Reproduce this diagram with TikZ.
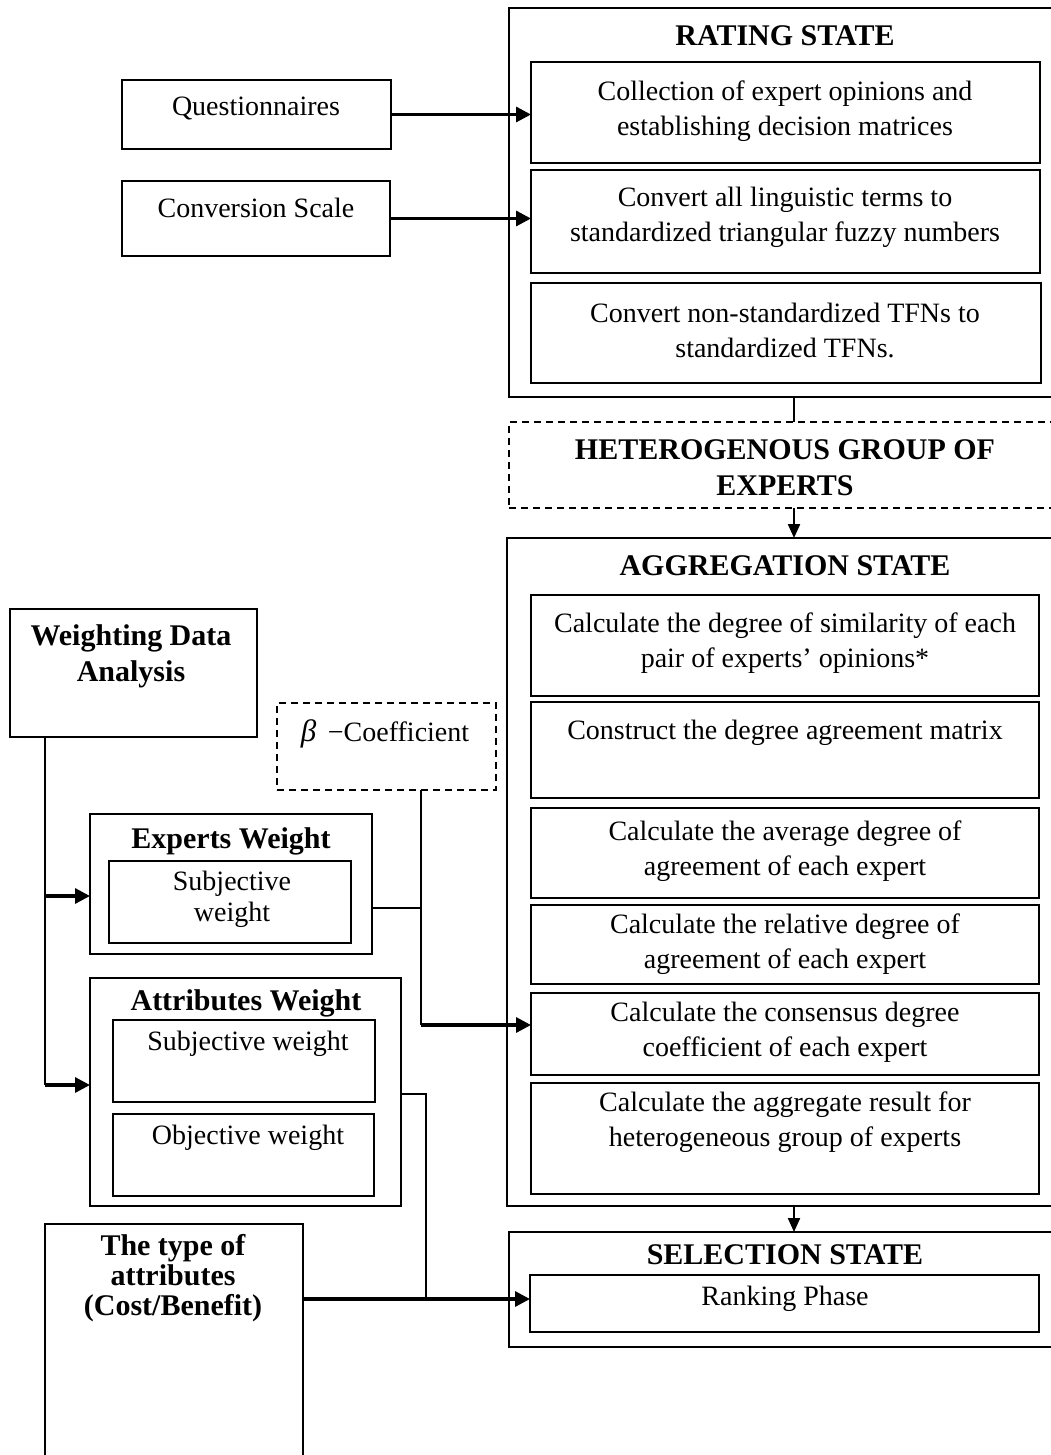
\documentclass[tikz,border=0pt]{standalone}
\usepackage{fontspec}
\setmainfont{Liberation Serif}
\usetikzlibrary{arrows.meta}
\begin{document}
\begin{tikzpicture}[x=1pt,y=-1pt,
  bx/.style={draw, line width=1.6pt, rectangle, inner sep=0pt, outer sep=0pt, anchor=north west},
  dbx/.style={bx, dash pattern=on 7pt off 5pt},
  txt/.style={align=center, inner sep=0pt, font=\fontsize{28}{35}\selectfont},
  btxt/.style={txt, font=\fontsize{30}{36}\selectfont\bfseries},
  conn/.style={line width=2.4pt},
  arr/.style={line width=3.2pt, -{Triangle[length=15pt,width=15pt]}},
  varr/.style={line width=2.2pt, -{Triangle[length=14pt,width=12pt]}}]
\useasboundingbox (0,0) rectangle (1051,1455);
\fill[white] (0,0) rectangle (1051,1455);
% ---- boxes
\newcommand{\mybox}[6]{\node[#6, minimum width={#4-#2}, minimum height={#5-#3}] (#1) at (#2,#3) {};}
\mybox{rating}{509}{8}{1070}{397}{bx}
\mybox{r1}{531}{62}{1040}{163}{bx}
\mybox{r2}{531}{170}{1040}{273}{bx}
\mybox{r3}{531}{283}{1041}{383}{bx}
\mybox{quest}{122}{80}{391}{149}{bx}
\mybox{conv}{122}{181}{390}{256}{bx}
\mybox{hetero}{509}{422}{1070}{508}{dbx}
\mybox{agg}{507}{538}{1070}{1206}{bx}
\mybox{a1}{531}{595}{1039}{696}{bx}
\mybox{a2}{531}{702}{1039}{798}{bx}
\mybox{a3}{531}{808}{1039}{898}{bx}
\mybox{a4}{531}{905}{1039}{984}{bx}
\mybox{a5}{531}{993}{1039}{1075}{bx}
\mybox{a6}{531}{1083}{1039}{1194}{bx}
\mybox{sel}{509}{1232}{1070}{1347}{bx}
\mybox{rank}{530}{1275}{1039}{1332}{bx}
\mybox{wda}{10}{609}{257}{737}{bx}
\mybox{beta}{277}{703}{496}{790}{dbx}
\mybox{ew}{90}{814}{372}{954}{bx}
\mybox{ews}{109}{861}{351}{943}{bx}
\mybox{aw}{90}{978}{401}{1206}{bx}
\mybox{aws}{113}{1020}{375}{1102}{bx}
\mybox{awo}{113}{1114}{374}{1196}{bx}
\mybox{type}{45}{1224}{303}{1475}{bx}
% ---- texts
\node[btxt] (t-rating) at (785,36) {RATING STATE};
\node[txt] (t-quest) at (256,109) {Questionnaires};
\node[txt] (t-conv) at (256,208) {Conversion Scale};
\node[txt] (t-r1) at (785,111) {Collection of expert opinions and\\establishing decision matrices};
\node[txt] (t-r2) at (785,217) {Convert all linguistic terms to\\standardized triangular fuzzy numbers};
\node[txt] (t-r3) at (785,330) {Convert non-standardized TFNs to\\standardized TFNs.};
\node[btxt] (t-het) at (785,468) {HETEROGENOUS GROUP OF\\EXPERTS};
\node[btxt] (t-agg) at (785,566) {AGGREGATION STATE};
\node[txt] (t-a1) at (785,643) {Calculate the degree of similarity of each\\pair of experts’ opinions*};
\node[txt] (t-a2) at (785,733) {Construct the degree agreement matrix};
\node[txt] (t-a3) at (785,851) {Calculate the average degree of\\agreement of each expert};
\node[txt] (t-a4) at (785,944) {Calculate the relative degree of\\agreement of each expert};
\node[txt] (t-a5) at (785,1032) {Calculate the consensus degree\\coefficient of each expert};
\node[txt] (t-a6) at (785,1122) {Calculate the aggregate result for\\heterogeneous group of experts};
\node[btxt] (t-sel) at (785,1255) {SELECTION STATE};
\node[txt] (t-rank) at (785,1299) {Ranking Phase};
\node[btxt] (t-wda) at (131,656) {Weighting Data\\Analysis};
\node[txt] (t-beta) at (385,734) {{\fontsize{31}{35}\selectfont\itshape β}\, −Coefficient};
\node[btxt] (t-ew) at (231,841) {Experts Weight};
\node[txt, font=\fontsize{28}{31}\selectfont] (t-ews) at (232,899) {Subjective\\weight};
\node[btxt] (t-aw) at (246,1003) {Attributes Weight};
\node[txt] (t-aws) at (248,1044) {Subjective weight};
\node[txt] (t-awo) at (248,1138) {Objective weight};
\node[btxt, font=\fontsize{30}{30}\selectfont\bfseries] (t-type) at (173,1278) {The type of\\attributes\\(Cost/Benefit)};
% ---- connectors
\draw[arr] (quest.east) -- (quest.east -| r1.west);
\draw[arr] (conv.east) -- (conv.east -| r2.west);
\coordinate (cx) at (794,0);
\draw[conn] (rating.south -| cx) -- (hetero.north -| cx);
\draw[varr] (hetero.south -| cx) -- (agg.north -| cx);
\draw[varr] (agg.south -| cx) -- (sel.north -| cx);
\coordinate (j1) at (45,896);
\coordinate (j2) at (45,1085);
\draw[conn] (wda.south -| j1) -- (j2);
\draw[arr] (j1) -- (j1 -| ew.west);
\draw[arr] (j2) -- (j2 -| aw.west);
\coordinate (b1) at (421,908);
\coordinate (b2) at (421,1025);
\draw[conn] (beta.south -| b1) -- (b2);
\draw[conn] (ew.east |- b1) -- (b1);
\draw[arr] (b2) -- (b2 -| a5.west);
\coordinate (c1) at (426,1094);
\coordinate (c2) at (426,1299);
\draw[conn] (aw.east |- c1) -- (c1) -- (c2);
\draw[arr] (type.east |- c2) -- (c2 -| rank.west);
\end{tikzpicture}
\end{document}
